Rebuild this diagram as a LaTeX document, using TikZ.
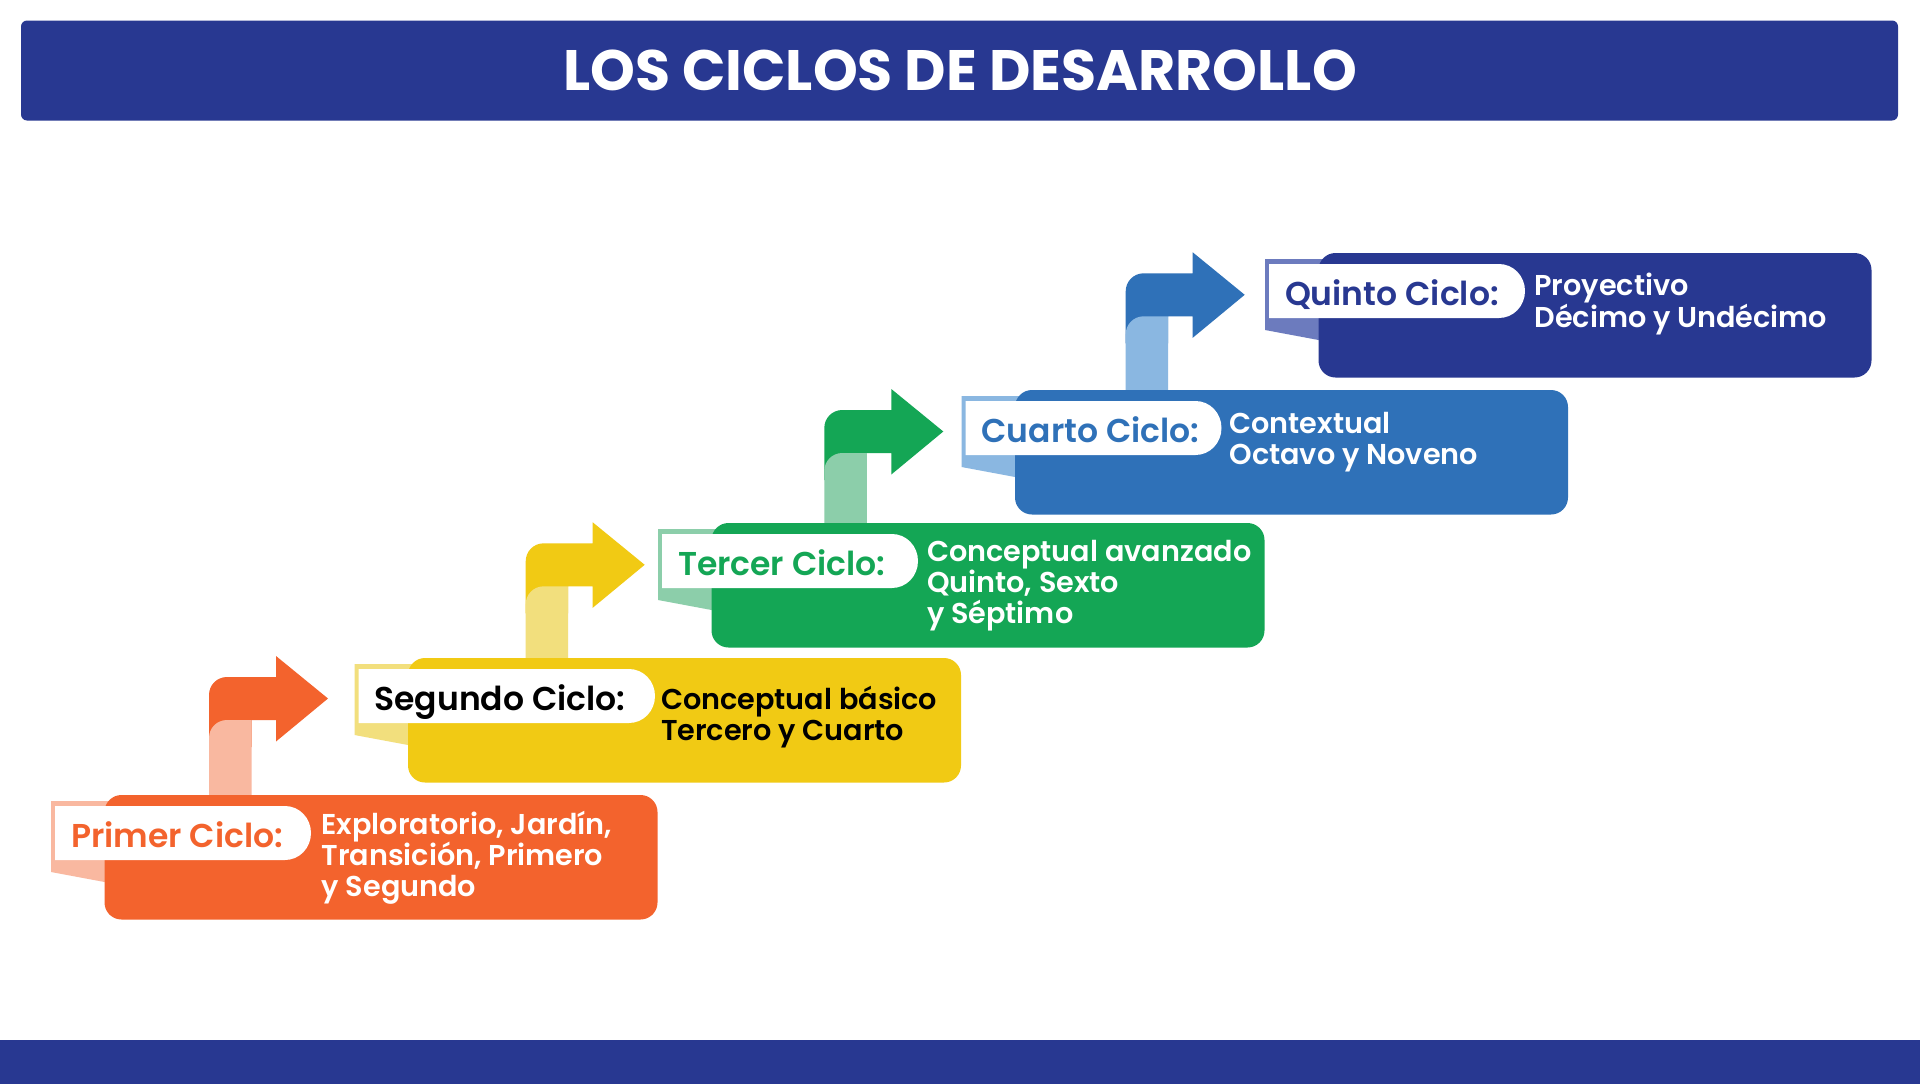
\documentclass[tikz,border=0pt]{standalone}
\usepackage{fontspec}
\usetikzlibrary{calc}
\newfontfamily\popb{Poppins Bold}
\newfontfamily\popsb{Poppins SemiBold}
\definecolor{navy}{HTML}{283891}
\definecolor{orng}{HTML}{F3632D}
\definecolor{lorng}{HTML}{F9B8A0}
\definecolor{yllw}{HTML}{F1CA14}
\definecolor{lyllw}{HTML}{F2DF7D}
\definecolor{grn}{HTML}{14A655}
\definecolor{lgrn}{HTML}{8CCEAA}
\definecolor{blu}{HTML}{2F71B8}
\definecolor{lblu}{HTML}{8AB7E1}
\definecolor{lnavy}{HTML}{6C7BBE}
% arrow: #1 stem left x, #2 shaft top y, #3 stem bottom y, #4 dark, #5 light
\newcommand\stepArrow[5]{%
 \fill[#4] ({#1},{#2+70}) -- ({#1},{#2+18}) .. controls ({#1},{#2+8}) and ({#1+8},{#2}) .. ({#1+18},{#2}) -- ({#1+67},{#2}) -- ({#1+67},{#2-21}) -- ({#1+119},{#2+21.5}) -- ({#1+67},{#2+64.5}) -- ({#1+67},{#2+43}) -- ({#1+42.5},{#2+43}) -- ({#1+42.5},{#2+70}) -- cycle;
 \fill[#5] ({#1},{#3}) -- ({#1},{#2+61}) .. controls ({#1},{#2+51}) and ({#1+8},{#2+43}) .. ({#1+18},{#2+43}) -- ({#1+42.5},{#2+43}) -- ({#1+42.5},{#3}) -- cycle;
}
% shadow: #1 box left, #2 box top, #3 colour
\newcommand\stepShadow[3]{%
 \fill[#3] ({#1-53.5},{#2+6}) -- ({#1+30},{#2+6}) -- ({#1+30},{#2+92.6}) -- ({#1},{#2+87}) -- ({#1-53.5},{#2+77}) -- cycle;
}
% label: #1 box left, #2 box top, #3 right end x
\newcommand\stepLabel[3]{%
 \fill[white] ({#1-49.5},{#2+11}) -- ({#3-26},{#2+11}) .. controls ({#3-11.6},{#2+11}) and ({#3},{#2+23}) .. ({#3},{#2+38}) .. controls ({#3},{#2+53}) and ({#3-11.6},{#2+65}) .. ({#3-26},{#2+65}) -- ({#1-49.5},{#2+65}) -- cycle;
}
\begin{document}
\begin{tikzpicture}[x=1pt,y=-1pt,
  txt/.style={inner sep=0pt, outer sep=0pt, anchor=base west},
  boxshape/.style={rectangle, rounded corners=17pt, minimum width=553pt, minimum height=124.5pt, anchor=north west, inner sep=0pt, outer sep=0pt},
  lbl/.style={txt, font=\popsb\fontsize{33}{40}\selectfont},
  dsc/.style={txt, font=\popsb\fontsize{28.7}{31}\selectfont}]
\useasboundingbox (0,0) rectangle (1920,1084);
\fill[white] (0,0) rectangle (1920,1084);
% bars
\fill[navy, rounded corners=6pt] (21,20.5) rectangle (1898,120.5);
\fill[navy] (0,1039.5) rectangle (1920,1084);
\node[inner sep=0pt, anchor=base, text=white, font=\popb\fontsize{57}{60}\selectfont] (title) at (960,90) {LOS CICLOS DE DESARROLLO};
% shadows and arrows
\stepShadow{104.5}{795}{lorng}
\stepShadow{408}{658}{lyllw}
\stepShadow{711.5}{523}{lgrn}
\stepShadow{1015}{390}{lblu}
\stepShadow{1318.5}{253}{lnavy}
\stepArrow{209}{677}{795}{orng}{lorng}
\stepArrow{525.7}{543.3}{658}{yllw}{lyllw}
\stepArrow{824.3}{410}{523}{grn}{lgrn}
\stepArrow{1125.7}{273.3}{390}{blu}{lblu}
% boxes
\node[boxshape, fill=orng] (b1) at (104.5,795) {};
\node[boxshape, fill=yllw] (b2) at (408,658) {};
\node[boxshape, fill=grn] (b3) at (711.5,523) {};
\node[boxshape, fill=blu] (b4) at (1015,390) {};
\node[boxshape, fill=navy] (b5) at (1318.5,253) {};
% labels
\stepLabel{104.5}{795}{311}
\stepLabel{408}{658}{655}
\stepLabel{711.5}{523}{918}
\stepLabel{1015}{390}{1221.5}
\stepLabel{1318.5}{253}{1525}
\node[lbl, text=orng] (l1) at (71,847) {Primer Ciclo:};
\node[lbl, text=black] (l2) at (374.5,710) {Segundo Ciclo:};
\node[lbl, text=grn] (l3) at (678,575) {Tercer Ciclo:};
\node[lbl, text=blu] (l4) at (981.5,442) {Cuarto Ciclo:};
\node[lbl, text=navy] (l5) at (1285,305) {Quinto Ciclo:};
% descriptions
\node[dsc, text=white] (d1a) at (321.7,834) {Exploratorio, Jardín,};
\node[dsc, text=white] (d1b) at (321.7,865) {Transición, Primero};
\node[dsc, text=white] (d1c) at (321.7,896) {y Segundo};
\node[dsc, text=black] (d2a) at (661,709) {Conceptual básico};
\node[dsc, text=black] (d2b) at (661,740) {Tercero y Cuarto};
\node[dsc, text=white] (d3a) at (927,561.5) {Conceptual avanzado};
\node[dsc, text=white] (d3b) at (927,592.5) {Quinto, Sexto};
\node[dsc, text=white] (d3c) at (927,623.5) {y Séptimo};
\node[dsc, text=white] (d4a) at (1229.5,433) {Contextual};
\node[dsc, text=white] (d4b) at (1229.5,464) {Octavo y Noveno};
\node[dsc, text=white] (d5a) at (1534.5,295) {Proyectivo};
\node[dsc, text=white] (d5b) at (1534.5,327) {Décimo y Undécimo};
\end{tikzpicture}
\end{document}
